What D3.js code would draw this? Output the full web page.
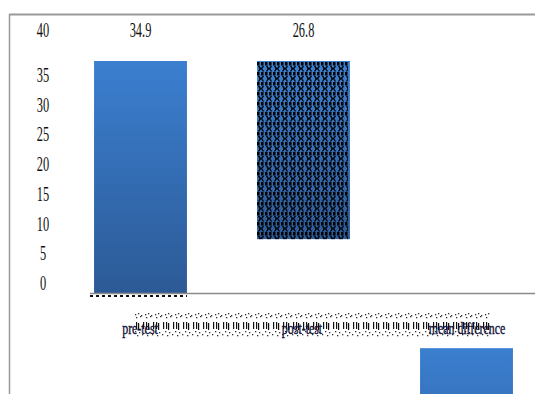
<!DOCTYPE html>
<html><head><meta charset="utf-8">
<script src="https://cdn.jsdelivr.net/npm/d3@7"></script>
<style>html,body{margin:0;padding:0;background:#fff;overflow:hidden}</style>
</head><body>
<svg id="c" width="535" height="394"></svg>
<script>
const categories = ["pre-test", "post-test", "mean difference"];
const barStart = [0, 34.9, -8.3];
const barEnd = [34.9, 8.1, -35.1];
const valueLabels = ["34.9", "26.8", ""];
const yTicks = [0, 5, 10, 15, 20, 25, 30, 35, 40];

const svg = d3.select("#c");
const defs = svg.append("defs");
const grad = defs.append("linearGradient").attr("id","g").attr("x1",0).attr("y1",0).attr("x2",0).attr("y2",1);
grad.append("stop").attr("offset","0%").attr("stop-color","#3b7fd0");
grad.append("stop").attr("offset","100%").attr("stop-color","#2c5a96");

// pattern for hatched bar
const pat = defs.append("pattern").attr("id","hp").attr("patternUnits","userSpaceOnUse")
  .attr("width",8).attr("height",10).attr("x",257).attr("y",62);
pat.append("rect").attr("x",0).attr("y",0).attr("width",2.5).attr("height",3.5).attr("fill","#000");
pat.append("rect").attr("x",4).attr("y",0).attr("width",2.5).attr("height",3.5).attr("fill","#000");
pat.append("path").attr("d","M1.5,4 L3.5,6.5 L1.5,9.5 M6.5,4 L4.5,6.5 L6.5,9.5").attr("stroke","#000").attr("stroke-width",1.3).attr("fill","none");
pat.append("rect").attr("x",2.5).attr("y",6).attr("width",1.5).attr("height",1.5).attr("fill","#000");

// dotted band pattern under category labels
const dp = defs.append("pattern").attr("id","dp").attr("patternUnits","userSpaceOnUse")
  .attr("width",10).attr("height",26).attr("x",135).attr("y",312);
[[0,2],[3,1],[6,3],[1,5],[5,4],[0,19],[4,20],[7,22],[2,23]].forEach(([x,y])=>
  dp.append("rect").attr("x",x).attr("y",y).attr("width",1.3).attr("height",1.3).attr("fill","#333"));
[[1,10],[3,11],[8,10]].forEach(([x,y])=>
  dp.append("rect").attr("x",x).attr("y",y).attr("width",1.2).attr("height",7).attr("fill","#111"));

const x = d3.scaleBand().domain(categories).range([59, 548]).paddingInner(0.43).paddingOuter(0.215);
const y = d3.scaleLinear().domain([0, 34.9]).range([293, 61]);
const yLab = d3.scaleLinear().domain([0, 35, 40]).range([290, 82, 37]);

// frame
svg.append("line").attr("x1",9).attr("x2",535).attr("y1",14.5).attr("y2",14.5).attr("stroke","#999").attr("stroke-width",2);
svg.append("line").attr("x1",9.5).attr("x2",9.5).attr("y1",14).attr("y2",394).attr("stroke","#999").attr("stroke-width",1.5);

// bars
const bars = categories.map((c,i)=>({c, s:barStart[i], e:barEnd[i], l:valueLabels[i], i}));
svg.selectAll("rect.bar").data(bars).join("rect").attr("class","bar")
  .attr("x", d=>x(d.c)).attr("width", x.bandwidth())
  .attr("y", d=>Math.min(y(d.s),y(d.e))).attr("height", d=>Math.abs(y(d.s)-y(d.e)))
  .attr("fill","url(#g)");
svg.append("rect").attr("x", x(categories[1])).attr("width", x.bandwidth()-2)
  .attr("y", y(barStart[1])+1).attr("height", Math.abs(y(barStart[1])-y(barEnd[1]))-1)
  .attr("fill","url(#hp)");

// axis line
svg.append("line").attr("x1",90).attr("x2",535).attr("y1",y(0)+0.5).attr("y2",y(0)+0.5).attr("stroke","#8a8a8a").attr("stroke-width",1.5);
svg.append("line").attr("x1",90).attr("x2",x(categories[0])+x.bandwidth()).attr("y1",y(0)+3).attr("y2",y(0)+3)
  .attr("stroke","#111").attr("stroke-width",2).attr("stroke-dasharray","3,3");

// y tick labels
svg.selectAll("text.yt").data(yTicks).join("text").attr("class","yt")
  .attr("transform", d=>`translate(43,${yLab(d)}) scale(0.62,1)`)
  .attr("text-anchor","middle").attr("font-family","Liberation Serif").attr("font-size",20).attr("fill","#111")
  .text(d=>d);

// value labels
svg.selectAll("text.vl").data(bars.filter(d=>d.l)).join("text").attr("class","vl")
  .attr("transform", d=>`translate(${x(d.c)+x.bandwidth()/2},37) scale(0.62,1)`)
  .attr("text-anchor","middle").attr("font-family","Liberation Serif").attr("font-size",20).attr("fill","#111")
  .text(d=>d.l);

// dotted band
svg.append("rect").attr("x",135).attr("y",312).attr("width",355).attr("height",26).attr("fill","url(#dp)");

// category labels
const catX = [140, 302, 467];
svg.selectAll("text.cl").data(categories).join("text").attr("class","cl")
  .attr("transform", (d,i)=>`translate(${x(d)+x.bandwidth()/2 + (catX[i]-(x(d)+x.bandwidth()/2))},334) scale(0.7,1)`)
  .attr("text-anchor","middle").attr("font-family","Liberation Serif").attr("font-size",17).attr("fill","#14143a")
  .attr("stroke","#14143a").attr("stroke-width",0.4)
  .text(d=>d);
</script>
</body></html>
